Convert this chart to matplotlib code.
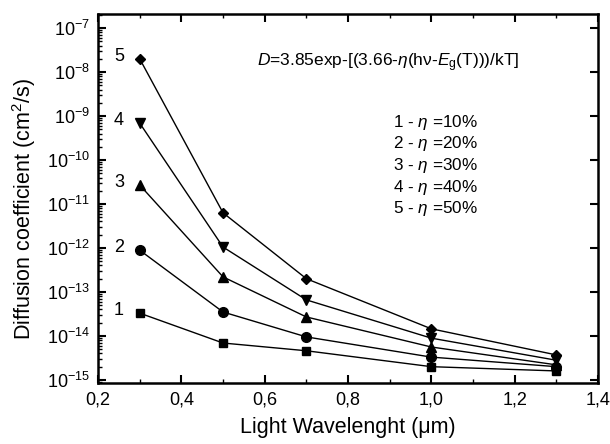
import numpy as np
import matplotlib
matplotlib.use('Agg')
import matplotlib.pyplot as plt
from matplotlib.ticker import FixedLocator, FuncFormatter, LogLocator, NullFormatter

plt.rcParams['font.family'] = ['Liberation Sans', 'DejaVu Sans']
plt.rcParams['mathtext.fontset'] = 'custom'
plt.rcParams['mathtext.rm'] = 'Liberation Sans'
plt.rcParams['mathtext.it'] = 'Liberation Sans:italic'
plt.rcParams['mathtext.bf'] = 'Liberation Sans:bold'

# wavelength (um)
wavelength = [0.3, 0.5, 0.7, 1.0, 1.3]

# diffusion coefficient (cm^2/s) for each eta
d_eta10 = [3.3e-14, 6.9e-15, 4.6e-15, 2.0e-15, 1.6e-15]
d_eta20 = [8.9e-13, 3.5e-14, 9.5e-15, 3.3e-15, 2.0e-15]
d_eta30 = [2.7e-11, 2.2e-13, 2.7e-14, 5.6e-15, 2.2e-15]
d_eta40 = [6.9e-10, 1.05e-12, 6.6e-14, 8.9e-15, 2.8e-15]
d_eta50 = [2.0e-8, 6.3e-12, 2.0e-13, 1.45e-14, 3.7e-15]

series = [d_eta10, d_eta20, d_eta30, d_eta40, d_eta50]
series_labels = ['1', '2', '3', '4', '5']
markers = ['s', 'o', '^', 'v', 'D']
msizes = [6, 7, 7, 7, 5.5]
legend_lines = ['1 - $\\eta$ =10%', '2 - $\\eta$ =20%', '3 - $\\eta$ =30%',
                '4 - $\\eta$ =40%', '5 - $\\eta$ =50%']

fig = plt.figure(figsize=(6.1, 4.44), dpi=100)
ax = fig.add_axes([0.1607, 0.1374, 0.8197, 0.8311])

for ys, lab, m, ms in zip(series, series_labels, markers, msizes):
    ax.plot(wavelength, ys, color='black', lw=1.0, marker=m, ms=ms)
    ax.annotate(lab, (wavelength[0], ys[0]), xytext=(-15, 2), textcoords='offset points',
                ha='center', va='center', fontsize=13)

ax.set_yscale('log')
ax.set_xlim(0.2, 1.4)
ax.set_ylim(10**-15.07, 10**-6.68)

ax.xaxis.set_major_locator(FixedLocator([0.2, 0.4, 0.6, 0.8, 1.0, 1.2, 1.4]))
ax.xaxis.set_minor_locator(FixedLocator([0.3, 0.5, 0.7, 0.9, 1.1, 1.3]))
ax.xaxis.set_major_formatter(FuncFormatter(lambda v, p: f'{v:.1f}'.replace('.', ',')))

ax.yaxis.set_major_locator(FixedLocator([10.0**e for e in range(-15, -6)]))
ax.yaxis.set_major_formatter(FuncFormatter(lambda v, p: f'$10^{{{int(round(np.log10(v)))}}}$'))
ax.yaxis.set_minor_locator(LogLocator(base=10, subs=np.arange(2, 10), numticks=20))
ax.yaxis.set_minor_formatter(NullFormatter())

ax.tick_params(which='major', direction='in', length=6, width=1.5, labelsize=13,
               top=True, right=True, pad=6)
ax.tick_params(which='minor', direction='in', length=3, width=1.0, top=True, right=False)
for s in ax.spines.values():
    s.set_linewidth(1.8)

ax.set_xlabel('Light Wavelenght (\u03bcm)', fontsize=15.5, labelpad=6)
ax.set_ylabel('Diffusion coefficient (cm$^2$/s)', fontsize=15.5)
ax.yaxis.set_label_coords(-0.12, 0.47)

ax.text(0.58, 0.867, '$D$=3.85exp-[(3.66-$\\eta$(h\u03bd-$E_{\\rm g}$(T)))/kT]',
        transform=ax.transAxes, ha='center', va='center', fontsize=12.5)
for i, t in enumerate(legend_lines):
    ax.text(0.59, 0.707 - i * 0.0588, t, transform=ax.transAxes, ha='left', va='center',
            fontsize=12.3)

fig.savefig('out.png', dpi=100)
